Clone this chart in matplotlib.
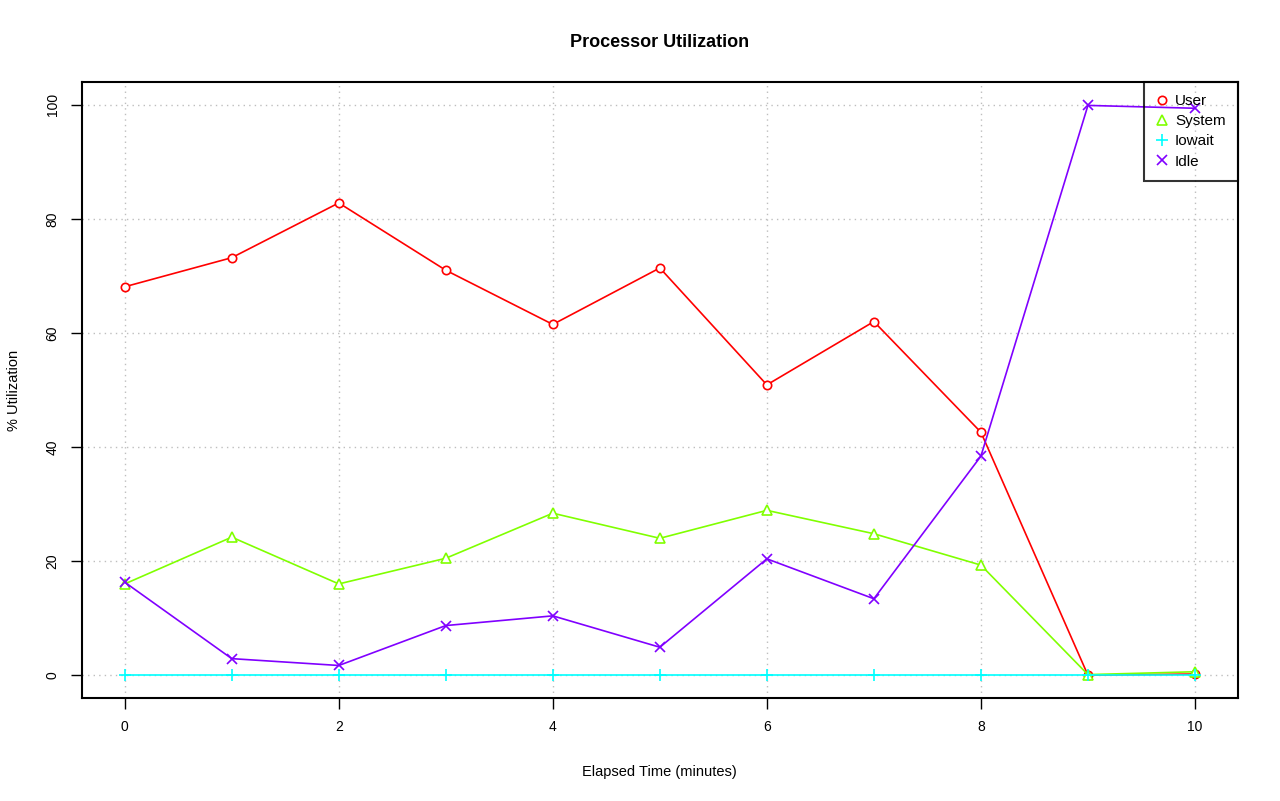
import matplotlib
matplotlib.use("Agg")
import matplotlib.pyplot as plt

plt.rcParams["font.family"] = ["Liberation Sans", "DejaVu Sans"]

# elapsed minutes and % utilization per category
minutes = list(range(11))
user = [68.1, 73.2, 82.8, 71.0, 61.5, 71.4, 50.9, 62.0, 42.6, 0.0, 0.2]
system = [16.0, 24.2, 16.0, 20.5, 28.4, 24.0, 28.9, 24.8, 19.3, 0.1, 0.6]
iowait = [0.0, 0.0, 0.0, 0.0, 0.0, 0.0, 0.0, 0.0, 0.0, 0.0, 0.0]
idle = [16.3, 2.9, 1.7, 8.7, 10.4, 4.9, 20.4, 13.4, 38.4, 99.9, 99.4]

series = [
    ("User", user, "#FF0000", "o", 6),
    ("System", system, "#80FF00", "^", 7),
    ("Iowait", iowait, "#00FFFF", "+", 9),
    ("Idle", idle, "#8000FF", "x", 6.5),
]

fig = plt.figure(figsize=(12.8, 8.01), dpi=100)
ax = fig.add_axes([0.064, 0.1286, 0.903, 0.769])

for label, vals, color, marker, ms in series:
    mfc = "white" if marker in ("o", "^") else color
    ax.plot(minutes, vals, color=color, linewidth=1.2, marker=marker,
            markersize=ms, markerfacecolor=mfc, markeredgecolor=color,
            markeredgewidth=1.2, label=label)

ax.set_xlim(-0.4, 10.4)
ax.set_ylim(-4, 104)
ax.set_xticks([0, 2, 4, 6, 8, 10])
ax.set_yticks([0, 20, 40, 60, 80, 100])
ax.set_yticklabels(["0", "20", "40", "60", "80", "100"], rotation=90, va="center")
ax.tick_params(direction="out", length=8, width=1, labelsize=10, pad=8)

ax.grid(True, color="#BEBEBE", linestyle=(0, (1, 3)), linewidth=1)
ax.set_axisbelow(True)
for s in ax.spines.values():
    s.set_linewidth(1.5)
    s.set_color("black")

ax.set_title("Processor Utilization", fontsize=13, fontweight="bold", pad=25)
ax.set_xlabel("Elapsed Time (minutes)", fontsize=10.5, labelpad=22)
ax.set_ylabel("% Utilization", fontsize=10.5, labelpad=18)

leg = ax.legend(loc="upper right", fontsize=11, frameon=True, fancybox=False,
                borderaxespad=0, handlelength=0.8, handletextpad=0.45,
                labelspacing=0.4, borderpad=0.8, numpoints=1)
leg.get_frame().set_edgecolor("black")
leg.get_frame().set_facecolor("none")
leg.get_frame().set_linewidth(1.5)
for h in leg.get_lines():
    h.set_linestyle("none")

fig.savefig("out.png", dpi=100)
